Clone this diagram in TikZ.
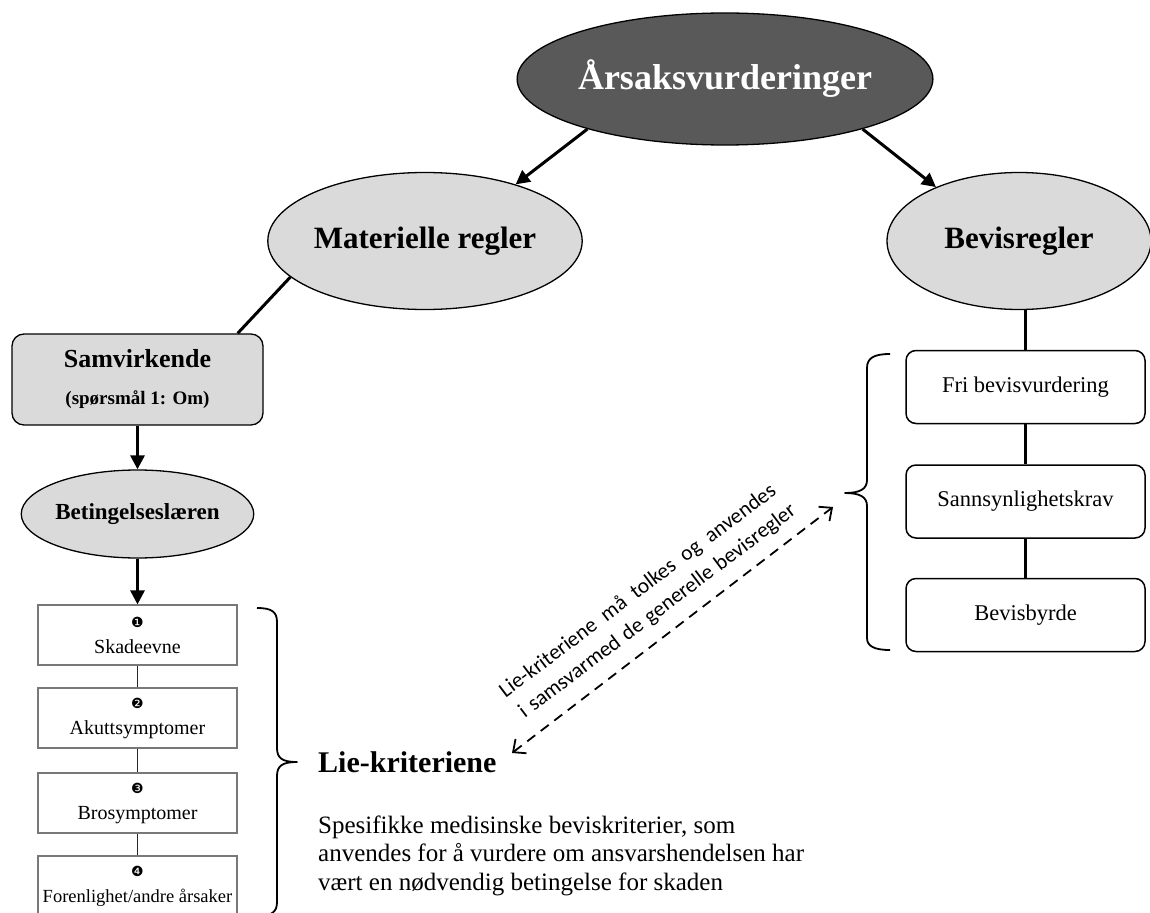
\documentclass[tikz,border=0pt]{standalone}
\usepackage{fontspec}
\setmainfont{Liberation Serif}
\newfontfamily\calib{Carlito}
\newfontfamily\djv{DejaVu Sans}
\usetikzlibrary{shapes.geometric,arrows.meta,calc}
\definecolor{topgray}{RGB}{89,89,89}
\definecolor{ellgray}{RGB}{218,218,218}
\definecolor{liegray}{RGB}{120,120,120}
\begin{document}
\begin{tikzpicture}[x=1pt,y=-1pt,
  ell/.style={ellipse, draw=black, line width=1.3pt, fill=ellgray, inner sep=0pt},
  arr/.style={line width=3pt, -{Triangle[length=14pt,width=14pt]}},
  conn/.style={line width=3pt},
  lieconn/.style={line width=1.6pt, draw=black!85},
  liebox/.style={rectangle, draw=liegray, line width=1.2pt, minimum width=199pt, minimum height=60pt, inner sep=0pt, align=center, font=\fontsize{20}{26}\selectfont},
  bevbox/.style={rectangle, rounded corners=10pt, draw=black, line width=1.5pt, minimum width=239pt, minimum height=73pt, fill=white, font=\fontsize{22.5}{26}\selectfont},
  bracepath/.style={line width=1.8pt, line join=round},
  rot/.style={rotate=37, anchor=base, inner sep=0pt, font=\calib\fontsize{21.5}{24}\selectfont}
]
\useasboundingbox (0,0) rectangle (1150,912);

% ellipses
\node[ell, fill=topgray, minimum width=380pt, minimum height=132pt, text=white, font=\fontsize{36}{40}\selectfont\bfseries] (top) at (725,79) {Årsaksvurderinger};
\node[ell, minimum width=276pt, minimum height=137pt, font=\fontsize{31}{36}\selectfont\bfseries] (mat) at (425,241) {Materielle regler};
\node[ell, minimum width=264pt, minimum height=137pt, font=\fontsize{31}{36}\selectfont\bfseries] (bev) at (1019,241) {Bevisregler};

% left column
\node[rectangle, rounded corners=12pt, draw=black, line width=1.3pt, fill=ellgray, minimum width=251pt, minimum height=91pt, align=center, font=\bfseries, text depth=6pt] (sam) at (137.5,379.5)
  {{\fontsize{26}{30}\selectfont Samvirkende}\\[22pt]{\fontsize{19}{22}\selectfont (spørsmål 1: Om)}};
\node[ell, minimum width=227pt, minimum height=88pt, font=\fontsize{23}{27}\selectfont\bfseries] (bet) at (137.5,514) {Betingelseslæren};

\node[liebox] (l1) at (137.5,635) {{\djv\fontsize{14}{14}\selectfont ❶}\\Skadeevne};
\node[liebox] (l2) at (137.5,718) {{\djv\fontsize{14}{14}\selectfont ❷}\\Akuttsymptomer};
\node[liebox] (l3) at (137.5,803) {{\djv\fontsize{14}{14}\selectfont ❸}\\Brosymptomer};
\node[liebox] (l4) at (137.5,886) {{\djv\fontsize{14}{14}\selectfont ❹}\\{\fontsize{18.5}{26}\selectfont Forenlighet/andre årsaker}};

% right column
\node[bevbox] (b1) at (1025.5,387) {Fri bevisvurdering};
\node[bevbox] (b2) at (1025.5,501.5) {Sannsynlighetskrav};
\node[bevbox] (b3) at (1025.5,615) {Bevisbyrde};

% texts
\node[anchor=base west, inner sep=0pt, font=\fontsize{30}{34}\selectfont\bfseries] (liehead) at (318,772) {Lie-kriteriene};
\node[anchor=base west, inner sep=0pt, align=left, font=\fontsize{25}{28.5}\selectfont] (para) at (318,890)
  {Spesifikke medisinske beviskriterier, som\\anvendes for å vurdere om ansvarshendelsen har\\vært en nødvendig betingelse for skaden};

\node[rot] (rl1) at (641.5,596) {\makebox[340pt][s]{Lie-kriteriene må tolkes og anvendes}};
\node[rot] (rl2) at (661,616) {\makebox[341pt][s]{i samsvarmed de generelle bevisregler}};

% connectors
\draw[arr] (top.200) -- (mat.32);
\draw[arr] (top.340) -- (bev.147);
\draw[conn] (mat.195) -- ($(sam.north east)+(-26,0)$);
\draw[arr] (sam) -- (bet);
\draw[arr] (bet) -- (l1);
\draw[lieconn] (l1) -- (l2);
\draw[lieconn] (l2) -- (l3);
\draw[lieconn] (l3) -- (l4);
\draw[conn] (b1.north |- bev.south) -- (b1.north);
\draw[conn] (b1) -- (b2);
\draw[conn] (b2) -- (b3);

% dashed double arrow
\coordinate (dA) at (512,753);
\coordinate (dB) at (833,507);
\draw[line width=1.8pt, dash pattern=on 10pt off 7pt, {Straight Barb[length=10pt,width=18pt]}-{Straight Barb[length=10pt,width=18pt]}] (dA) -- (dB);

% braces
\draw[bracepath] (257,608) .. controls (272,608) and (277,612) .. (277,622) -- (277,748)
  .. controls (277,758) and (282,762) .. (297,762)
  .. controls (282,762) and (277,766) .. (277,776) -- (277,902)
  .. controls (277,912) and (272,916) .. (257,916);
\draw[bracepath] (890,354) .. controls (874,354) and (867,358) .. (867,368) -- (867,480)
  .. controls (867,489) and (860,493) .. (845,493)
  .. controls (860,493) and (867,497) .. (867,506) -- (867,638)
  .. controls (867,646) and (874,650) .. (890,650);
\end{tikzpicture}
\end{document}
